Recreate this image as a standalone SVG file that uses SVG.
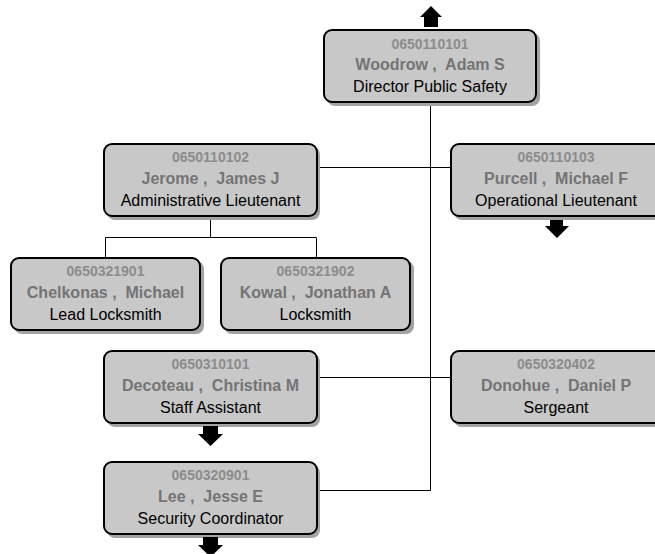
<svg xmlns="http://www.w3.org/2000/svg" width="655" height="554" viewBox="0 0 655 554">
  <style>
    text { white-space: pre; }
    .shadow { fill: #a3a3a3; }
    .box { fill: #c8c8c8; stroke: #000; stroke-width: 2; }
    .id { font-family: "Liberation Sans", Arial, sans-serif; font-size: 14px; font-weight: bold; fill: #8c8c8c; text-anchor: middle; }
    .name { font-family: "Liberation Sans", Arial, sans-serif; font-size: 16px; font-weight: bold; fill: #747474; text-anchor: middle; }
    .title { font-family: "Liberation Sans", Arial, sans-serif; font-size: 16px; fill: #000; text-anchor: middle; }
    .conn { stroke: #000; stroke-width: 1; fill: none; }
    .arrow { fill: #000; }
  </style>

  <!-- connectors -->
  <g id="connectors">
    <path class="conn" d="M430.5 102 V490.5 H317"/>
    <path class="conn" d="M317 167.5 H451"/>
    <path class="conn" d="M317 377.5 H451"/>
    <path class="conn" d="M210.5 216 V237.5 M105.5 257 V237.5 H316.5 V257"/>
  </g>

  <!-- node: Woodrow -->
  <g id="node-0650110101">
    <rect class="shadow" x="327" y="33" width="213" height="73" rx="8"/>
    <rect class="box" x="324" y="30" width="212" height="72" rx="8"/>
    <text class="id" x="430" y="48.5">0650110101</text>
    <text class="name" x="430" y="70">Woodrow ,  Adam S</text>
    <text class="title" x="430" y="91.5">Director Public Safety</text>
    <polygon class="arrow" points="431,6 442,17 438,17 438,27 424,27 424,17 420,17"/>
  </g>

  <!-- node: Jerome -->
  <g id="node-0650110102">
    <rect class="shadow" x="107" y="147" width="213" height="73" rx="8"/>
    <rect class="box" x="104" y="144" width="213" height="72" rx="8"/>
    <text class="id" x="210.5" y="162">0650110102</text>
    <text class="name" x="210.5" y="184">Jerome ,  James J</text>
    <text class="title" x="210.5" y="205.5">Administrative Lieutenant</text>
  </g>

  <!-- node: Purcell -->
  <g id="node-0650110103">
    <rect class="shadow" x="454" y="147" width="213" height="73" rx="8"/>
    <rect class="box" x="451" y="144" width="212" height="72" rx="8"/>
    <text class="id" x="556" y="162">0650110103</text>
    <text class="name" x="556" y="184">Purcell ,  Michael F</text>
    <text class="title" x="556" y="205.5">Operational Lieutenant</text>
    <polygon class="arrow" points="550,220 563,220 563,226 569,226 557,238 545,226 550,226"/>
  </g>

  <!-- node: Chelkonas -->
  <g id="node-0650321901">
    <rect class="shadow" x="14" y="261" width="190" height="73" rx="8"/>
    <rect class="box" x="11" y="258" width="189" height="72" rx="8"/>
    <text class="id" x="105.5" y="276">0650321901</text>
    <text class="name" x="105.5" y="298">Chelkonas ,  Michael</text>
    <text class="title" x="105.5" y="319.5">Lead Locksmith</text>
  </g>

  <!-- node: Kowal -->
  <g id="node-0650321902">
    <rect class="shadow" x="224" y="261" width="190" height="73" rx="8"/>
    <rect class="box" x="221" y="258" width="189" height="72" rx="8"/>
    <text class="id" x="315.5" y="276">0650321902</text>
    <text class="name" x="315.5" y="298">Kowal ,  Jonathan A</text>
    <text class="title" x="315.5" y="319.5">Locksmith</text>
  </g>

  <!-- node: Decoteau -->
  <g id="node-0650310101">
    <rect class="shadow" x="107" y="354" width="213" height="73" rx="8"/>
    <rect class="box" x="104" y="351" width="213" height="72" rx="8"/>
    <text class="id" x="210.5" y="369">0650310101</text>
    <text class="name" x="210.5" y="391">Decoteau ,  Christina M</text>
    <text class="title" x="210.5" y="412.5">Staff Assistant</text>
    <polygon class="arrow" points="203,426 218,426 218,434 223,434 210.5,446 198,434 203,434"/>
  </g>

  <!-- node: Donohue -->
  <g id="node-0650320402">
    <rect class="shadow" x="454" y="354" width="213" height="73" rx="8"/>
    <rect class="box" x="451" y="351" width="212" height="72" rx="8"/>
    <text class="id" x="556" y="369">0650320402</text>
    <text class="name" x="556" y="391">Donohue ,  Daniel P</text>
    <text class="title" x="556" y="412.5">Sergeant</text>
  </g>

  <!-- node: Lee -->
  <g id="node-0650320901">
    <rect class="shadow" x="107" y="465" width="213" height="73" rx="8"/>
    <rect class="box" x="104" y="462" width="213" height="72" rx="8"/>
    <text class="id" x="210.5" y="480">0650320901</text>
    <text class="name" x="210.5" y="502">Lee ,  Jesse E</text>
    <text class="title" x="210.5" y="523.5">Security Coordinator</text>
    <polygon class="arrow" points="203,537 218,537 218,545 223,545 210.5,557 198,545 203,545"/>
  </g>
</svg>
